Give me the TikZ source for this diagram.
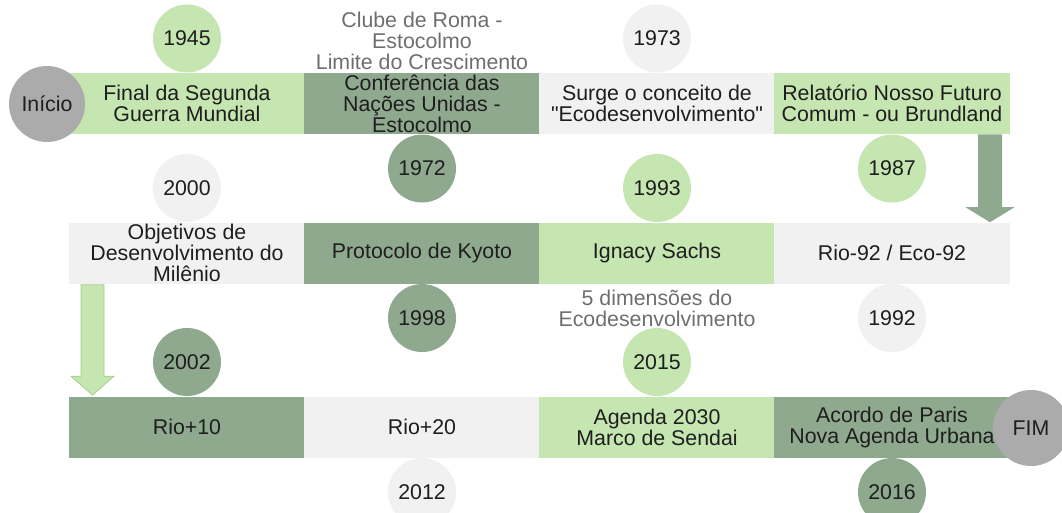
\documentclass[tikz,border=0pt]{standalone}
\usepackage{fontspec}
\setmainfont{Liberation Sans}[Ligatures=TeXOff]
\usetikzlibrary{calc}
\definecolor{lgreen}{HTML}{C5E6B0}
\definecolor{dgreen}{HTML}{8FA98F}
\definecolor{lgray}{HTML}{F1F1F1}
\definecolor{cgray}{HTML}{ABABAB}
\definecolor{ink}{HTML}{1E1E1E}
\definecolor{notegray}{HTML}{6E6E6E}
\definecolor{arrowedge}{HTML}{A3CB8C}
\pgfdeclarelayer{bg}
\pgfsetlayers{bg,main}
\begin{document}
\begin{tikzpicture}[x=0.75pt,y=-0.75pt,
  every node/.style={font=\fontsize{16}{15.75}\selectfont, text=ink, align=center, inner sep=0pt},
  seg/.style={rectangle, minimum width=176.6pt, minimum height=45.75pt},
  yr/.style={circle, minimum size=51pt, anchor=south},
  yrb/.style={circle, minimum size=51pt, anchor=north},
  endc/.style={circle, minimum size=57pt, fill=cgray},
  notetext/.style={text=notegray}
]
\useasboundingbox (0,0) rectangle (1062,513);

% row 1
\node[seg, fill=lgreen] (b11) at (187,103.5) {Final da Segunda\\Guerra Mundial};
\node[seg, fill=dgreen] (b12) at (422,103.5) {Conferência das\\Nações Unidas -\\Estocolmo};
\node[seg, fill=lgray]  (b13) at (657,103.5) {Surge o conceito de\\"Ecodesenvolvimento"};
\node[seg, fill=lgreen] (b14) at (892,103.5) {Relatório Nosso Futuro\\Comum - ou Brundland};
% row 2
\node[seg, fill=lgray]  (b21) at (187,253) {Objetivos de\\Desenvolvimento do\\Milênio};
\node[seg, fill=dgreen] (b22) at (422,253) {Protocolo de Kyoto};
\node[seg, fill=lgreen] (b23) at (657,253) {Ignacy Sachs};
\node[seg, fill=lgray]  (b24) at (892,253) {Rio-92 / Eco-92};
% row 3
\node[seg, fill=dgreen] (b31) at (187,427) {Rio+10};
\node[seg, fill=lgray]  (b32) at (422,427) {Rio+20};
\node[seg, fill=lgreen] (b33) at (657,427) {Agenda 2030\\Marco de Sendai};
\node[seg, fill=dgreen] (b34) at (892,427) {Acordo de Paris\\Nova Agenda Urbana};

% year circles
\begin{pgfonlayer}{bg}
\node[yr,  fill=lgreen] (y1945) at (b11.north) {1945};
\node[yrb, fill=dgreen] (y1972) at (b12.south) {1972};
\node[yr,  fill=lgray]  (y1973) at (b13.north) {1973};
\node[yrb, fill=lgreen] (y1987) at (b14.south) {1987};
\node[yr,  fill=lgray]  (y2000) at (b21.north) {2000};
\node[yrb, fill=dgreen] (y1998) at (b22.south) {1998};
\node[yr,  fill=lgreen] (y1993) at (b23.north) {1993};
\node[yrb, fill=lgray]  (y1992) at (b24.south) {1992};
\node[yr,  fill=dgreen] (y2002) at (b31.north) {2002};
\node[yrb, fill=lgray]  (y2012) at (b32.south) {2012};
\node[yr,  fill=lgreen] (y2015) at (b33.north) {2015};
\node[yrb, fill=dgreen] (y2016) at (b34.south) {2016};
\end{pgfonlayer}

% notes
\node[notetext] (n1) at ($(b12.north)+(0,-32)$) {Clube de Roma -\\Estocolmo\\Limite do Crescimento};
\node[notetext] (n2) at ($(b23.south)+(0,25)$) {5 dimensões do\\Ecodesenvolvimento};

% start / end
\node[endc] (ini) at (47,104) {Início};
\node[endc] (fim) at (1031,428) {FIM};

% block arrows
\coordinate (ra) at ($(b14.south east)+(-20,0)$);
\coordinate (rb) at ($(b24.north east)+(-20,0)$);
\fill[dgreen] ($(ra)+(-12,0)$) -- ($(rb)+(-12,-15)$) -- ($(rb)+(-24.5,-15)$) -- (rb)
  -- ($(rb)+(24.5,-15)$) -- ($(rb)+(12,-15)$) -- ($(ra)+(12,0)$) -- cycle;

\coordinate (la) at ($(b21.south west)+(23.5,1)$);
\coordinate (lb) at ($(b31.north west)+(23.5,-1)$);
\filldraw[fill=lgreen, draw=arrowedge, line width=0.5pt] ($(la)+(-11.5,0)$) -- ($(lb)+(-11.5,-19)$)
  -- ($(lb)+(-21.5,-19)$) -- (lb) -- ($(lb)+(21.5,-19)$) -- ($(lb)+(11.5,-19)$) -- ($(la)+(11.5,0)$) -- cycle;
\end{tikzpicture}
\end{document}
